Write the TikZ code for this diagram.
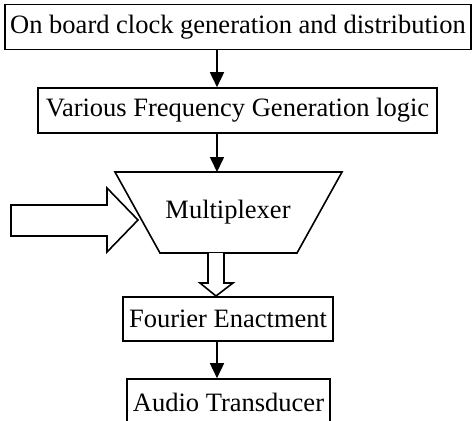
\documentclass[tikz,border=0pt]{standalone}
\usepackage{fontspec}
\setmainfont{Liberation Serif}
\usetikzlibrary{arrows.meta}
\begin{document}
\begin{tikzpicture}[x=1pt,y=-1pt,
  blk/.style={draw, line width=1.6pt, inner sep=0pt, font=\fontsize{26.5}{30}\selectfont},
  con/.style={line width=1.6pt, -{Triangle[length=15pt,width=14pt]}},
  fat/.style={draw, line width=1.6pt, fill=white, line join=miter}]
\useasboundingbox (0,0) rectangle (472,421);
\clip (0,0) rectangle (472,421);
\coordinate (ax) at (217,0);
\node[blk, minimum width=466, minimum height=45] (b1) at (238,27) {On board clock generation and distribution};
\node[blk, minimum width=399, minimum height=45] (b2) at (237.5,110.5) {Various Frequency Generation logic};
\coordinate (tl) at (115,172);
\coordinate (tr) at (342,172);
\coordinate (br) at (297,253);
\coordinate (bl) at (160,253);
\draw[line width=1.6pt, line join=miter] (tl) -- (tr) -- (br) -- (bl) -- cycle;
\node[font=\fontsize{26.5}{30}\selectfont, inner sep=0pt] (mux) at (228,212) {Multiplexer};
\node[blk, minimum width=210, minimum height=44] (b3) at (228,319) {Fourier Enactment};
\node[blk, minimum width=203, minimum height=46] (b4) at (228.5,402) {Audio Transducer};
\draw[con] (b1.south -| ax) -- (b2.north -| ax);
\draw[con] (b2.south -| ax) -- (tl -| ax);
\draw[con] (b3.south -| ax) -- (b4.north -| ax);
% left block arrow
\draw[fat] (11,205) -- (107,205) -- (107,188) -- (138,220) -- (107,252) -- (107,236) -- (11,236) -- cycle;
% down block arrow
\draw[fat] (208,253) -- (208,283) -- (200,283) -- (216,296) -- (233,283) -- (224,283) -- (224,253);
\end{tikzpicture}
\end{document}
